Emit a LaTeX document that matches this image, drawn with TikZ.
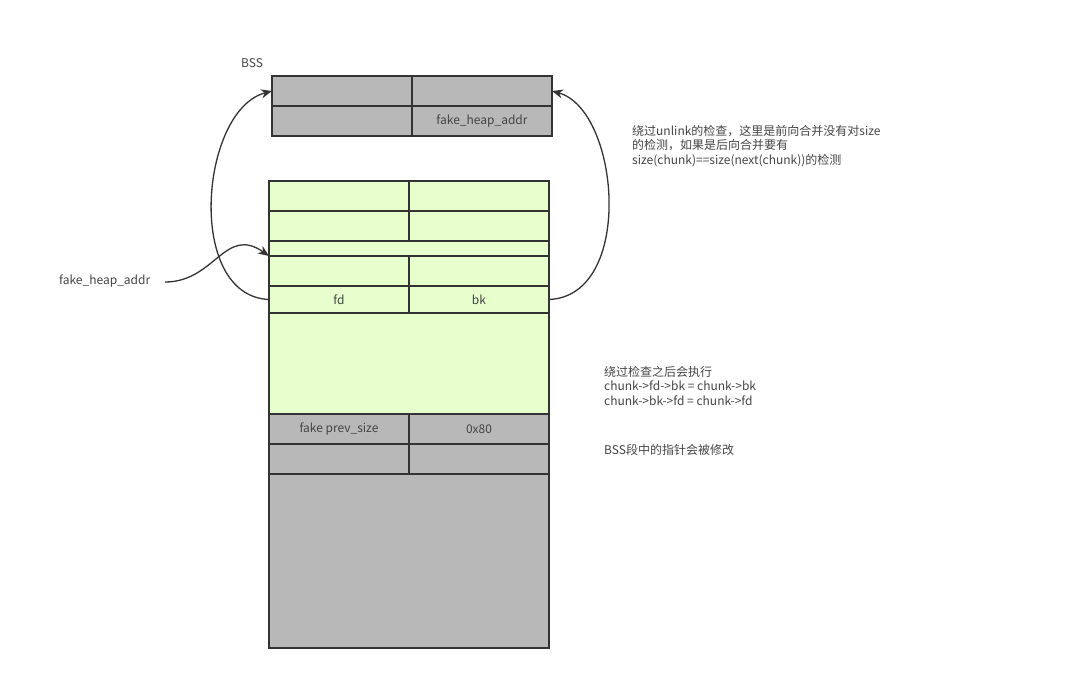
\documentclass[tikz,border=0pt]{standalone}
\usepackage{fontspec}
\setmainfont{Noto Sans CJK SC}
\usetikzlibrary{arrows.meta}
\definecolor{cellgray}{RGB}{184,184,184}
\definecolor{cellgreen}{RGB}{230,255,204}
\definecolor{edge}{RGB}{51,51,51}
\definecolor{txt}{RGB}{68,68,68}
\begin{document}
\begin{tikzpicture}[x=1pt,y=-1pt,
  cell/.style={draw=edge,line width=1.3pt,inner sep=0pt,outer sep=0pt,font=\fontsize{12}{14}\selectfont,text=txt},
  gcell/.style={cell,fill=cellgreen},
  ycell/.style={cell,fill=cellgray},
  lbl/.style={font=\fontsize{12}{14.5}\selectfont,text=txt,inner sep=0pt,align=left},
  conn/.style={draw=edge,line width=1.3pt,-{Stealth[length=11pt,width=9pt]}}]
\useasboundingbox (0,0) rectangle (1080,678);
% BSS
\node[lbl,anchor=west] (bsslabel) at (241,63) {BSS};
\node[ycell,minimum width=140,minimum height=30] (b11) at (342,91) {};
\node[ycell,minimum width=140,minimum height=30] (b12) at (482,91) {};
\node[ycell,minimum width=140,minimum height=30] (b21) at (342,121) {};
\node[ycell,minimum width=140,minimum height=30] (b22) at (482,121) {fake\_heap\_addr};
% green chunk
\node[gcell,minimum width=140,minimum height=30] (g11) at (339,196) {};
\node[gcell,minimum width=140,minimum height=30] (g12) at (479,196) {};
\node[gcell,minimum width=140,minimum height=30] (g21) at (339,226) {};
\node[gcell,minimum width=140,minimum height=30] (g22) at (479,226) {};
\node[gcell,minimum width=280,minimum height=15] (g3) at (409,248.5) {};
\node[gcell,minimum width=140,minimum height=30] (g41) at (339,271) {};
\node[gcell,minimum width=140,minimum height=30] (g42) at (479,271) {};
\node[gcell,minimum width=140,minimum height=27] (fd) at (339,299.5) {fd};
\node[gcell,minimum width=140,minimum height=27] (bk) at (479,299.5) {bk};
\node[gcell,minimum width=280,minimum height=101] (gbig) at (409,363.5) {};
% gray part
\node[ycell,minimum width=140,minimum height=30] (p1) at (339,429) {fake prev\_size};
\node[ycell,minimum width=140,minimum height=30] (p2) at (479,429) {0x80};
\node[ycell,minimum width=140,minimum height=30] (q1) at (339,459) {};
\node[ycell,minimum width=140,minimum height=30] (q2) at (479,459) {};
\node[ycell,minimum width=280,minimum height=174] (pbig) at (409,561) {};
% labels
\node[lbl,anchor=west] (fha) at (59,281) {fake\_heap\_addr};
\coordinate (fhaend) at (165,282);
\node[lbl,anchor=north west] (note1) at (632,125) {绕过unlink的检查，这里是前向合并没有对size\\的检测，如果是后向合并要有\\size(chunk)==size(next(chunk))的检测};
\node[lbl,anchor=north west] (note2) at (604,366) {绕过检查之后会执行\\chunk->fd->bk = chunk->bk\\chunk->bk->fd = chunk->fd};
\node[lbl,anchor=west] (note3) at (604,450) {BSS段中的指针会被修改};
% connectors
\draw[conn] (fd.west) .. controls (185,296) and (200,110) .. (b11.west);
\draw[conn] (bk.east) .. controls (635,296) and (620,110) .. (b12.east);
\draw[conn] (fhaend) .. controls (215,282) and (225,225) .. (g41.north west);
\end{tikzpicture}
\end{document}
